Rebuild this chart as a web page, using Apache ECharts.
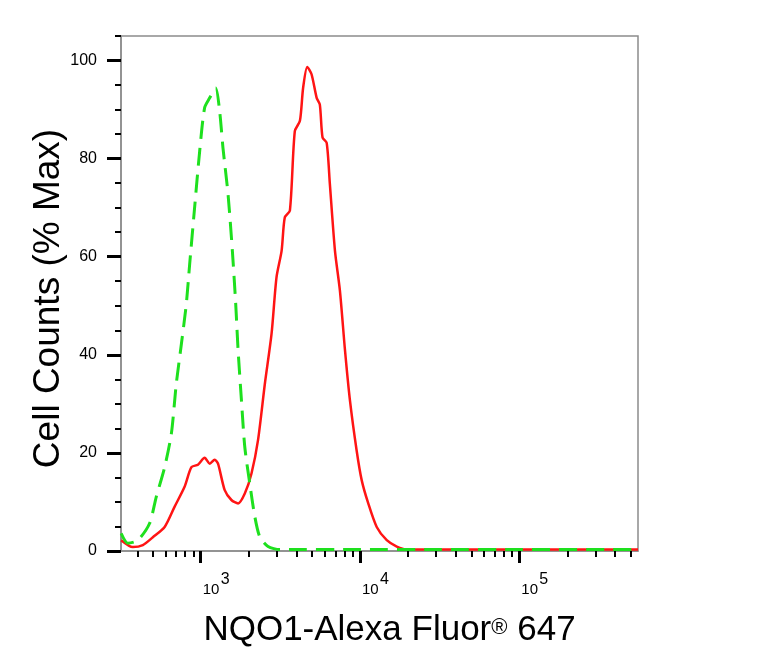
<!DOCTYPE html>
<html>
<head>
<meta charset="utf-8">
<title>NQO1-Alexa Fluor 647</title>
<script src="https://cdn.jsdelivr.net/npm/echarts@6/dist/echarts.min.js"></script>
<style>
html, body { margin: 0; padding: 0; background: #fff; }
#chart { width: 776px; height: 669px; }
</style>
</head>
<body>
<div id="chart"></div>
<script>
// x values are log10 of the fluorescence intensity, y values are % of max
var redLogX = [2.501, 2.574, 2.637, 2.700, 2.774, 2.836, 2.899, 2.942, 2.983, 3.025,
    3.057, 3.088, 3.109, 3.151, 3.193, 3.235, 3.277, 3.319, 3.360, 3.403,
    3.445, 3.476, 3.508, 3.528, 3.560, 3.591, 3.623, 3.643, 3.669, 3.696,
    3.728, 3.748, 3.765, 3.791, 3.811, 3.843, 3.874, 3.906, 3.937, 3.979,
    4.011, 4.052, 4.105, 4.168, 4.231, 4.294, 4.6, 5.0, 5.4, 5.745];
var redPct = [2.2, 0.8, 1.2, 2.8, 4.9, 9.0, 13.1, 17.1, 17.6, 19.0,
    17.8, 18.6, 17.8, 12.4, 10.4, 9.7, 11.7, 15.8, 22.6, 34.1,
    44.3, 55.8, 61.2, 68.0, 69.4, 85.6, 87.7, 94.4, 98.7, 97.2,
    92.4, 91.0, 84.3, 83.2, 74.8, 61.2, 53.1, 40.9, 30.7, 20.5,
    14.4, 9.7, 4.9, 2.2, 0.9, 0.3, 0.3, 0.3, 0.3, 0.3];

var greenLogX = [2.501, 2.543, 2.606, 2.679, 2.721, 2.774, 2.816, 2.847, 2.879, 2.910,
    2.931, 2.962, 2.994, 3.025, 3.057, 3.094, 3.119, 3.140, 3.172, 3.199,
    3.220, 3.235, 3.256, 3.277, 3.308, 3.340, 3.371, 3.423, 3.497, 4.0,
    4.5, 5.0, 5.745];
var greenPct = [3.6, 1.6, 2.2, 5.6, 11.0, 17.1, 23.9, 34.1, 42.2, 50.4,
    58.5, 70.0, 81.6, 90.4, 92.4, 94.4, 89.7, 82.2, 72.7, 61.2,
    50.4, 40.9, 30.7, 21.2, 13.8, 7.0, 2.9, 0.9, 0.3, 0.3,
    0.3, 0.3, 0.3];

var majorExps = [3, 4, 5];
var yLabels = [0, 20, 40, 60, 80, 100];
var yMinor = [5, 10, 15, 25, 30, 35, 45, 50, 55, 65, 70, 75, 85, 90, 95, 105];

var xMin = 2.5, xMax = 5.745;

// minor ticks sit at 2..9 times each decade
var xMinor = [];
for (var e = 2; e <= 5; e++) {
    for (var k = 2; k <= 9; k++) {
        var v = Math.log10(k * Math.pow(10, e));
        if (v > xMin && v < xMax) xMinor.push(v);
    }
}

function pairs(xs, ys) {
    return xs.map(function (x, i) { return [x, ys[i]]; });
}

var chart = echarts.init(document.getElementById('chart'));
var font = 'Liberation Sans, Arial, sans-serif';

var option = {
    animation: false,
    backgroundColor: '#fff',
    grid: {
        left: 121, right: 138, top: 36, bottom: 118,
        show: true, borderColor: '#8c8c8c', borderWidth: 1.5,
        containLabel: false, outerBoundsMode: 'none'
    },
    xAxis: [
        {
            // major ticks, the "10" base of each label and the axis title
            type: 'value', min: xMin, max: xMax, position: 'bottom',
            axisLine: { show: true, lineStyle: { color: '#8c8c8c', width: 1.5 } },
            axisTick: { show: true, customValues: majorExps, length: 12, lineStyle: { color: '#000', width: 3 } },
            splitLine: { show: false },
            axisLabel: {
                customValues: majorExps,
                margin: 31, align: 'left', padding: [0, 0, 0, 2],
                fontFamily: font, fontSize: 15, color: '#000',
                formatter: function () { return '10'; }
            },
            name: 'NQO1-Alexa Fluor{r|®} 647',
            nameLocation: 'middle', nameGap: 62, nameMoveOverlap: false,
            nameTextStyle: {
                fontSize: 35, fontFamily: font, color: '#000', padding: [0, 0, 0, 20],
                rich: { r: { fontSize: 22, fontFamily: font, color: '#000', verticalAlign: 'bottom', padding: [0, 0, 9, 0] } }
            }
        },
        {
            // minor ticks and the exponent of each label
            type: 'value', min: xMin, max: xMax, position: 'bottom', offset: 0,
            axisLine: { show: false },
            axisTick: { show: true, customValues: xMinor, length: 6, lineStyle: { color: '#000', width: 2 } },
            axisLabel: {
                show: true, customValues: majorExps,
                margin: 21, align: 'left', padding: [0, 0, 0, 20],
                fontFamily: font, fontSize: 16, color: '#000',
                formatter: function (v) { return String(v); }
            },
            splitLine: { show: false }
        }
    ],
    yAxis: [
        {
            type: 'value', min: 0, max: 105, position: 'left',
            axisLine: { show: true, lineStyle: { color: '#8c8c8c', width: 1.5 } },
            axisTick: { show: true, customValues: yLabels, length: 14, lineStyle: { color: '#000', width: 3 } },
            splitLine: { show: false },
            axisLabel: { customValues: yLabels, margin: 24, fontSize: 16, fontFamily: font, color: '#000' },
            name: 'Cell Counts (% Max)',
            nameLocation: 'middle', nameGap: 54, nameMoveOverlap: false,
            nameTextStyle: { fontSize: 37, fontFamily: font, color: '#000', padding: [0, 10, 0, 0] }
        },
        {
            type: 'value', min: 0, max: 105, position: 'left', offset: 0,
            axisLine: { show: false },
            axisTick: { show: true, customValues: yMinor, length: 6, lineStyle: { color: '#000', width: 2 } },
            axisLabel: { show: false },
            splitLine: { show: false }
        }
    ],
    series: [
        {
            name: 'NQO1', type: 'line', xAxisIndex: 0, yAxisIndex: 0,
            data: pairs(redLogX, redPct),
            showSymbol: false, smooth: 0.25,
            lineStyle: { color: '#ff1414', width: 2.5 }
        },
        {
            name: 'Isotype', type: 'line', xAxisIndex: 0, yAxisIndex: 0,
            data: pairs(greenLogX, greenPct),
            showSymbol: false, smooth: 0.25,
            lineStyle: { color: '#1ee01e', width: 3, type: [18, 9] }
        }
    ]
};

chart.setOption(option);
</script>
</body>
</html>
